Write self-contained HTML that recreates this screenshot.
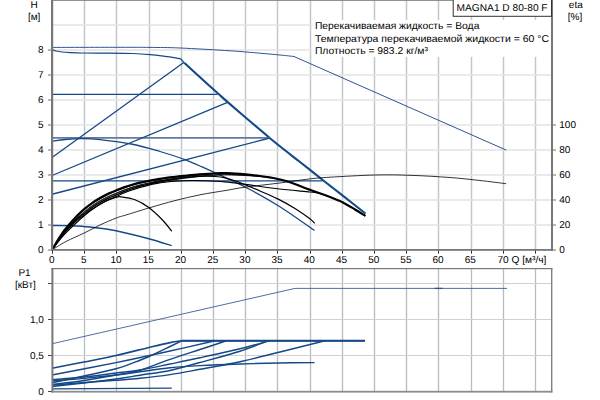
<!DOCTYPE html>
<html><head><meta charset="utf-8"><title>MAGNA1 D 80-80 F</title>
<style>
html,body{margin:0;padding:0;background:#fff;}
body{width:600px;height:400px;overflow:hidden;}
svg{display:block;}
svg text{font-family:"Liberation Sans",Arial,sans-serif;fill:#000;text-rendering:geometricPrecision;}
</style></head><body>
<svg width="600" height="400" viewBox="0 0 600 400">
<rect x="0" y="0" width="600" height="400" fill="#fff"/>
<line x1="84.50" y1="0" x2="84.50" y2="249" stroke="#e9ebed" stroke-width="2.4"/>
<line x1="84.50" y1="0" x2="84.50" y2="249" stroke="#c3c7cb" stroke-width="1"/>
<line x1="84.50" y1="269" x2="84.50" y2="391" stroke="#eceeef" stroke-width="2.2"/>
<line x1="84.50" y1="269" x2="84.50" y2="391" stroke="#b9bcc0" stroke-width="1"/>
<line x1="116.50" y1="0" x2="116.50" y2="249" stroke="#e9ebed" stroke-width="2.4"/>
<line x1="116.50" y1="0" x2="116.50" y2="249" stroke="#c3c7cb" stroke-width="1"/>
<line x1="116.50" y1="269" x2="116.50" y2="391" stroke="#eceeef" stroke-width="2.2"/>
<line x1="116.50" y1="269" x2="116.50" y2="391" stroke="#b9bcc0" stroke-width="1"/>
<line x1="149.50" y1="0" x2="149.50" y2="249" stroke="#e9ebed" stroke-width="2.4"/>
<line x1="149.50" y1="0" x2="149.50" y2="249" stroke="#c3c7cb" stroke-width="1"/>
<line x1="149.50" y1="269" x2="149.50" y2="391" stroke="#eceeef" stroke-width="2.2"/>
<line x1="149.50" y1="269" x2="149.50" y2="391" stroke="#b9bcc0" stroke-width="1"/>
<line x1="181.50" y1="0" x2="181.50" y2="249" stroke="#e9ebed" stroke-width="2.4"/>
<line x1="181.50" y1="0" x2="181.50" y2="249" stroke="#c3c7cb" stroke-width="1"/>
<line x1="181.50" y1="269" x2="181.50" y2="391" stroke="#eceeef" stroke-width="2.2"/>
<line x1="181.50" y1="269" x2="181.50" y2="391" stroke="#b9bcc0" stroke-width="1"/>
<line x1="213.50" y1="0" x2="213.50" y2="249" stroke="#e9ebed" stroke-width="2.4"/>
<line x1="213.50" y1="0" x2="213.50" y2="249" stroke="#c3c7cb" stroke-width="1"/>
<line x1="213.50" y1="269" x2="213.50" y2="391" stroke="#eceeef" stroke-width="2.2"/>
<line x1="213.50" y1="269" x2="213.50" y2="391" stroke="#b9bcc0" stroke-width="1"/>
<line x1="245.50" y1="0" x2="245.50" y2="249" stroke="#e9ebed" stroke-width="2.4"/>
<line x1="245.50" y1="0" x2="245.50" y2="249" stroke="#c3c7cb" stroke-width="1"/>
<line x1="245.50" y1="269" x2="245.50" y2="391" stroke="#eceeef" stroke-width="2.2"/>
<line x1="245.50" y1="269" x2="245.50" y2="391" stroke="#b9bcc0" stroke-width="1"/>
<line x1="277.50" y1="0" x2="277.50" y2="249" stroke="#e9ebed" stroke-width="2.4"/>
<line x1="277.50" y1="0" x2="277.50" y2="249" stroke="#c3c7cb" stroke-width="1"/>
<line x1="277.50" y1="269" x2="277.50" y2="391" stroke="#eceeef" stroke-width="2.2"/>
<line x1="277.50" y1="269" x2="277.50" y2="391" stroke="#b9bcc0" stroke-width="1"/>
<line x1="310.50" y1="0" x2="310.50" y2="249" stroke="#e9ebed" stroke-width="2.4"/>
<line x1="310.50" y1="0" x2="310.50" y2="249" stroke="#c3c7cb" stroke-width="1"/>
<line x1="310.50" y1="269" x2="310.50" y2="391" stroke="#eceeef" stroke-width="2.2"/>
<line x1="310.50" y1="269" x2="310.50" y2="391" stroke="#b9bcc0" stroke-width="1"/>
<line x1="342.50" y1="0" x2="342.50" y2="249" stroke="#e9ebed" stroke-width="2.4"/>
<line x1="342.50" y1="0" x2="342.50" y2="249" stroke="#c3c7cb" stroke-width="1"/>
<line x1="342.50" y1="269" x2="342.50" y2="391" stroke="#eceeef" stroke-width="2.2"/>
<line x1="342.50" y1="269" x2="342.50" y2="391" stroke="#b9bcc0" stroke-width="1"/>
<line x1="374.50" y1="0" x2="374.50" y2="249" stroke="#e9ebed" stroke-width="2.4"/>
<line x1="374.50" y1="0" x2="374.50" y2="249" stroke="#c3c7cb" stroke-width="1"/>
<line x1="374.50" y1="269" x2="374.50" y2="391" stroke="#eceeef" stroke-width="2.2"/>
<line x1="374.50" y1="269" x2="374.50" y2="391" stroke="#b9bcc0" stroke-width="1"/>
<line x1="406.50" y1="0" x2="406.50" y2="249" stroke="#e9ebed" stroke-width="2.4"/>
<line x1="406.50" y1="0" x2="406.50" y2="249" stroke="#c3c7cb" stroke-width="1"/>
<line x1="406.50" y1="269" x2="406.50" y2="391" stroke="#eceeef" stroke-width="2.2"/>
<line x1="406.50" y1="269" x2="406.50" y2="391" stroke="#b9bcc0" stroke-width="1"/>
<line x1="438.50" y1="0" x2="438.50" y2="249" stroke="#e9ebed" stroke-width="2.4"/>
<line x1="438.50" y1="0" x2="438.50" y2="249" stroke="#c3c7cb" stroke-width="1"/>
<line x1="438.50" y1="269" x2="438.50" y2="391" stroke="#eceeef" stroke-width="2.2"/>
<line x1="438.50" y1="269" x2="438.50" y2="391" stroke="#b9bcc0" stroke-width="1"/>
<line x1="471.50" y1="0" x2="471.50" y2="249" stroke="#e9ebed" stroke-width="2.4"/>
<line x1="471.50" y1="0" x2="471.50" y2="249" stroke="#c3c7cb" stroke-width="1"/>
<line x1="471.50" y1="269" x2="471.50" y2="391" stroke="#eceeef" stroke-width="2.2"/>
<line x1="471.50" y1="269" x2="471.50" y2="391" stroke="#b9bcc0" stroke-width="1"/>
<line x1="503.50" y1="0" x2="503.50" y2="249" stroke="#e9ebed" stroke-width="2.4"/>
<line x1="503.50" y1="0" x2="503.50" y2="249" stroke="#c3c7cb" stroke-width="1"/>
<line x1="503.50" y1="269" x2="503.50" y2="391" stroke="#eceeef" stroke-width="2.2"/>
<line x1="503.50" y1="269" x2="503.50" y2="391" stroke="#b9bcc0" stroke-width="1"/>
<line x1="535.50" y1="0" x2="535.50" y2="249" stroke="#e9ebed" stroke-width="2.4"/>
<line x1="535.50" y1="0" x2="535.50" y2="249" stroke="#c3c7cb" stroke-width="1"/>
<line x1="535.50" y1="269" x2="535.50" y2="391" stroke="#eceeef" stroke-width="2.2"/>
<line x1="535.50" y1="269" x2="535.50" y2="391" stroke="#b9bcc0" stroke-width="1"/>
<line x1="53" y1="225.00" x2="551" y2="225.00" stroke="#e2e3e5" stroke-width="1.5"/>
<line x1="53" y1="200.00" x2="551" y2="200.00" stroke="#e2e3e5" stroke-width="1.5"/>
<line x1="53" y1="175.00" x2="551" y2="175.00" stroke="#e2e3e5" stroke-width="1.5"/>
<line x1="53" y1="150.00" x2="551" y2="150.00" stroke="#e2e3e5" stroke-width="1.5"/>
<line x1="53" y1="125.00" x2="551" y2="125.00" stroke="#e2e3e5" stroke-width="1.5"/>
<line x1="53" y1="100.00" x2="551" y2="100.00" stroke="#e2e3e5" stroke-width="1.5"/>
<line x1="53" y1="75.00" x2="551" y2="75.00" stroke="#e2e3e5" stroke-width="1.5"/>
<line x1="53" y1="50.00" x2="551" y2="50.00" stroke="#e2e3e5" stroke-width="1.5"/>
<line x1="53" y1="25.00" x2="551" y2="25.00" stroke="#e2e3e5" stroke-width="1.5"/>
<line x1="53" y1="355.50" x2="551" y2="355.50" stroke="#cfd0d1" stroke-width="1"/>
<line x1="53" y1="319.50" x2="551" y2="319.50" stroke="#cfd0d1" stroke-width="1"/>
<line x1="53" y1="283.50" x2="551" y2="283.50" stroke="#cfd0d1" stroke-width="1"/>
<path d="M52.50,47.40 C63.75,47.38 103.75,47.30 120.00,47.30 C136.25,47.30 140.00,47.28 150.00,47.40 C160.00,47.52 166.67,47.43 180.00,48.00 C193.33,48.57 216.67,49.93 230.00,50.80 C243.33,51.67 251.67,52.50 260.00,53.20 C268.33,53.90 274.33,54.45 280.00,55.00 C285.67,55.55 291.67,56.25 294.00,56.50 L506.2,150.1" fill="none" stroke="#2d5590" stroke-width="1.0" />
<path d="M52.50,50.00 C53.08,50.17 54.42,50.67 56.00,51.00 C57.58,51.33 59.67,51.73 62.00,52.00 C64.33,52.27 66.58,52.43 70.00,52.60 C73.42,52.77 75.83,52.92 82.50,53.00 C89.17,53.08 101.67,53.02 110.00,53.10 C118.33,53.18 125.83,53.25 132.50,53.50 C139.17,53.75 144.58,54.13 150.00,54.60 C155.42,55.07 161.00,55.80 165.00,56.30 C169.00,56.80 171.37,57.17 174.00,57.60 C176.63,58.03 179.67,58.68 180.80,58.90 L184.2,62.8" fill="none" stroke="#154886" stroke-width="1.2" />
<path d="M184.20,62.80 C186.83,65.20 194.32,72.04 200.00,77.20 C205.68,82.36 213.63,89.55 218.30,93.75 C222.97,97.95 222.72,97.81 228.00,102.40 C233.28,106.99 243.00,115.33 250.00,121.30 C257.00,127.27 264.17,133.37 270.00,138.20 C275.83,143.03 280.00,146.33 285.00,150.30 C290.00,154.27 293.67,157.02 300.00,162.00 C306.33,166.98 315.50,174.30 323.00,180.20 C330.50,186.10 337.92,191.85 345.00,197.40 C352.08,202.95 362.08,210.82 365.50,213.50" fill="none" stroke="#154886" stroke-width="2.1" />
<path d="M52.00,94.40 L217.50,94.40" fill="none" stroke="#154886" stroke-width="1.3" />
<path d="M52.00,137.90 L269.60,137.90" fill="none" stroke="#6578a2" stroke-width="1.7" />
<path d="M52.00,180.90 L322.50,180.90" fill="none" stroke="#154886" stroke-width="1.3" />
<path d="M52.00,157.50 L183.75,62.50" fill="none" stroke="#154886" stroke-width="1.3" />
<path d="M52.00,175.50 L227.50,102.30" fill="none" stroke="#154886" stroke-width="1.3" />
<path d="M52.00,194.25 L269.80,138.00" fill="none" stroke="#154886" stroke-width="1.3" />
<path d="M52.00,141.25 C54.17,140.96 60.00,139.93 65.00,139.50 C70.00,139.07 76.17,138.68 82.00,138.70 C87.83,138.72 91.58,138.67 100.00,139.60 C108.42,140.53 122.50,142.27 132.50,144.25 C142.50,146.23 151.67,149.08 160.00,151.50 C168.33,153.92 175.83,156.33 182.50,158.75 C189.17,161.17 189.42,161.21 200.00,166.00 C210.58,170.79 232.88,180.83 246.00,187.50 C259.12,194.17 267.33,198.83 278.75,206.00 C290.17,213.17 308.54,226.42 314.50,230.50" fill="none" stroke="#154886" stroke-width="1.3" />
<path d="M52.00,225.50 C55.00,225.53 63.67,225.45 70.00,225.70 C76.33,225.95 82.33,226.16 90.00,227.00 C97.67,227.84 106.21,228.79 116.00,230.75 C125.79,232.71 139.46,236.25 148.75,238.75 C158.04,241.25 167.92,244.58 171.75,245.75" fill="none" stroke="#154886" stroke-width="1.3" />
<path d="M52.00,250.00 C54.33,248.58 60.63,244.33 66.00,241.50 C71.37,238.67 78.53,235.75 84.20,233.00 C89.87,230.25 94.66,227.50 100.00,225.00 C105.34,222.50 111.92,219.67 116.25,218.00 C120.58,216.33 120.58,216.67 126.00,215.00 C131.42,213.33 140.58,210.40 148.75,208.00 C156.92,205.60 166.46,202.80 175.00,200.60 C183.54,198.40 191.67,196.47 200.00,194.80 C208.33,193.13 217.40,191.88 225.00,190.60 C232.60,189.32 236.85,188.32 245.60,187.10 C254.35,185.88 266.78,184.67 277.50,183.30 C288.22,181.93 301.15,179.92 309.90,178.90 C318.65,177.88 319.15,177.85 330.00,177.20 C340.85,176.55 361.67,175.32 375.00,175.00 C388.33,174.68 397.50,174.88 410.00,175.30 C422.50,175.72 438.33,176.63 450.00,177.50 C461.67,178.37 470.63,179.47 480.00,180.50 C489.37,181.53 501.83,183.17 506.20,183.70" fill="none" stroke="#000" stroke-width="0.8" />
<path d="M52.00,250.00 C53.67,247.83 58.17,241.33 62.00,237.00 C65.83,232.67 70.33,228.33 75.00,224.00 C79.67,219.67 85.00,214.75 90.00,211.00 C95.00,207.25 100.62,203.78 105.00,201.50 C109.38,199.22 113.58,198.08 116.25,197.30 C118.92,196.52 117.88,196.38 121.00,196.80 C124.12,197.22 130.38,198.02 135.00,199.80 C139.62,201.58 144.17,204.13 148.75,207.50 C153.33,210.87 158.67,216.04 162.50,220.00 C166.33,223.96 170.21,229.38 171.75,231.25" fill="none" stroke="#000" stroke-width="1.2" />
<path d="M52.00,250.00 C52.67,248.83 54.67,245.23 56.00,243.00 C57.33,240.77 58.50,238.85 60.00,236.60 C61.50,234.35 63.33,231.68 65.00,229.50 C66.67,227.32 68.00,225.78 70.00,223.50 C72.00,221.22 74.63,218.22 77.00,215.80 C79.37,213.38 81.70,211.13 84.20,209.00 C86.70,206.87 89.37,204.83 92.00,203.00 C94.63,201.17 97.33,199.53 100.00,198.00 C102.67,196.47 105.29,195.08 108.00,193.80 C110.71,192.52 113.58,191.38 116.25,190.30 C118.92,189.22 121.38,188.23 124.00,187.30 C126.62,186.37 129.33,185.48 132.00,184.70 C134.67,183.92 137.21,183.25 140.00,182.60 C142.79,181.95 145.92,181.35 148.75,180.80 C151.58,180.25 154.29,179.77 157.00,179.30 C159.71,178.83 162.00,178.42 165.00,178.00 C168.00,177.58 171.88,177.17 175.00,176.80 C178.12,176.43 179.58,176.23 183.75,175.80 C187.92,175.37 194.38,174.63 200.00,174.20 C205.62,173.77 212.92,173.38 217.50,173.20 C222.08,173.02 222.82,172.90 227.50,173.10 C232.18,173.30 240.18,173.92 245.60,174.40 C251.02,174.88 255.77,175.47 260.00,176.00 C264.23,176.53 268.08,177.12 271.00,177.60 C273.92,178.08 274.33,178.12 277.50,178.90 C280.67,179.68 284.60,180.49 290.00,182.30 C295.40,184.11 304.48,187.77 309.90,189.75 C315.32,191.73 319.15,192.97 322.50,194.20 C325.85,195.42 326.67,195.77 330.00,197.10 C333.33,198.43 338.33,200.13 342.50,202.20 C346.67,204.27 351.17,207.20 355.00,209.50 C358.83,211.80 363.75,214.92 365.50,216.00" fill="none" stroke="#000" stroke-width="2.1" />
<path d="M52.00,250.00 C52.67,248.86 54.67,245.33 56.00,243.15 C57.33,240.97 58.50,239.11 60.00,236.90 C61.50,234.69 63.33,232.05 65.00,229.90 C66.67,227.75 68.00,226.25 70.00,224.00 C72.00,221.75 74.63,218.78 77.00,216.40 C79.37,214.02 81.70,211.82 84.20,209.70 C86.70,207.58 89.37,205.53 92.00,203.70 C94.63,201.87 97.33,200.23 100.00,198.70 C102.67,197.17 105.29,195.78 108.00,194.50 C110.71,193.22 113.58,192.09 116.25,191.00 C118.92,189.91 121.38,188.90 124.00,187.95 C126.62,187.00 129.33,186.10 132.00,185.30 C134.67,184.50 137.21,183.82 140.00,183.15 C142.79,182.49 145.92,181.86 148.75,181.30 C151.58,180.74 154.29,180.25 157.00,179.77 C159.71,179.30 162.00,178.87 165.00,178.45 C168.00,178.02 171.88,177.60 175.00,177.22 C178.12,176.84 179.58,176.63 183.75,176.16 C187.92,175.69 194.38,174.88 200.00,174.40 C205.62,173.92 214.58,173.45 217.50,173.26" fill="none" stroke="#000" stroke-width="1.1" />
<path d="M52.00,250.00 C52.67,248.92 54.67,245.57 56.00,243.50 C57.33,241.43 58.50,239.69 60.00,237.60 C61.50,235.51 63.33,232.98 65.00,230.95 C66.67,228.92 68.00,227.54 70.00,225.40 C72.00,223.26 74.63,220.38 77.00,218.09 C79.37,215.81 81.70,213.77 84.20,211.70 C86.70,209.63 89.37,207.53 92.00,205.70 C94.63,203.87 97.33,202.23 100.00,200.70 C102.67,199.17 105.29,197.78 108.00,196.50 C110.71,195.22 113.58,194.11 116.25,193.00 C118.92,191.89 121.38,190.84 124.00,189.86 C126.62,188.88 129.33,187.94 132.00,187.11 C134.67,186.28 137.21,185.56 140.00,184.86 C142.79,184.16 145.92,183.51 148.75,182.90 C151.58,182.29 154.29,181.74 157.00,181.22 C159.71,180.69 162.00,180.22 165.00,179.74 C168.00,179.25 171.88,178.75 175.00,178.31 C178.12,177.87 179.58,177.64 183.75,177.09 C187.92,176.54 194.38,175.60 200.00,175.00 C205.62,174.40 212.92,173.81 217.50,173.51 C222.08,173.21 225.83,173.24 227.50,173.19" fill="none" stroke="#000" stroke-width="0.85" />
<path d="M52.00,250.00 C52.67,248.93 54.67,245.63 56.00,243.60 C57.33,241.57 58.50,239.86 60.00,237.80 C61.50,235.74 63.33,233.25 65.00,231.25 C66.67,229.25 68.00,227.91 70.00,225.80 C72.00,223.69 74.63,220.84 77.00,218.59 C79.37,216.34 81.70,214.35 84.20,212.30 C86.70,210.25 89.37,208.13 92.00,206.30 C94.63,204.47 97.33,202.83 100.00,201.30 C102.67,199.77 105.29,198.38 108.00,197.10 C110.71,195.82 113.58,194.72 116.25,193.60 C118.92,192.48 121.38,191.41 124.00,190.41 C126.62,189.41 129.33,188.46 132.00,187.61 C134.67,186.76 137.21,186.03 140.00,185.32 C142.79,184.60 145.92,183.91 148.75,183.30 C151.58,182.69 154.29,182.18 157.00,181.67 C159.71,181.16 162.00,180.70 165.00,180.24 C168.00,179.78 171.88,179.30 175.00,178.88 C178.12,178.46 179.58,178.24 183.75,177.74 C187.92,177.25 194.38,176.41 200.00,175.90 C205.62,175.39 212.92,174.94 217.50,174.69 C222.08,174.44 222.82,174.34 227.50,174.43 C232.18,174.52 240.18,174.90 245.60,175.22 C251.02,175.55 255.77,175.97 260.00,176.37 C264.23,176.76 269.17,177.39 271.00,177.60" fill="none" stroke="#000" stroke-width="0.85" />
<path d="M52.00,250.00 C52.67,248.97 54.67,245.80 56.00,243.85 C57.33,241.90 58.50,240.27 60.00,238.30 C61.50,236.32 63.33,233.92 65.00,232.00 C66.67,230.08 68.00,228.83 70.00,226.80 C72.00,224.77 74.63,221.97 77.00,219.79 C79.37,217.61 81.70,215.72 84.20,213.70 C86.70,211.68 89.37,209.53 92.00,207.70 C94.63,205.87 97.33,204.23 100.00,202.70 C102.67,201.17 105.29,199.78 108.00,198.50 C110.71,197.22 113.58,196.14 116.25,195.00 C118.92,193.86 121.38,192.71 124.00,191.67 C126.62,190.62 129.33,189.62 132.00,188.72 C134.67,187.82 137.21,187.05 140.00,186.28 C142.79,185.51 145.92,184.74 148.75,184.10 C151.58,183.46 154.29,182.94 157.00,182.42 C159.71,181.89 162.00,181.42 165.00,180.94 C168.00,180.45 171.88,179.94 175.00,179.51 C178.12,179.08 179.58,178.85 183.75,178.34 C187.92,177.84 194.38,177.02 200.00,176.50 C205.62,175.98 212.92,175.49 217.50,175.22 C222.08,174.95 222.82,174.85 227.50,174.91 C232.18,174.97 240.18,175.29 245.60,175.56 C251.02,175.83 255.77,176.18 260.00,176.52 C264.23,176.86 269.17,177.42 271.00,177.60" fill="none" stroke="#000" stroke-width="0.85" />
<path d="M52.00,250.00 C52.67,249.05 54.67,246.15 56.00,244.30 C57.33,242.45 58.50,240.92 60.00,238.90 C61.50,236.88 63.33,234.22 65.00,232.20 C66.67,230.18 68.00,228.80 70.00,226.80 C72.00,224.80 74.63,222.13 77.00,220.20 C79.37,218.27 81.70,217.03 84.20,215.20 C86.70,213.37 89.37,211.03 92.00,209.20 C94.63,207.37 97.33,205.73 100.00,204.20 C102.67,202.67 105.29,201.28 108.00,200.00 C110.71,198.72 113.58,197.67 116.25,196.50 C118.92,195.33 121.38,194.08 124.00,193.00 C126.62,191.92 129.33,190.93 132.00,190.00 C134.67,189.07 137.21,188.22 140.00,187.40 C142.79,186.58 145.92,185.77 148.75,185.10 C151.58,184.43 154.29,183.88 157.00,183.40 C159.71,182.92 162.00,182.58 165.00,182.20 C168.00,181.82 170.83,181.38 175.00,181.10 C179.17,180.82 185.00,180.57 190.00,180.50 C195.00,180.43 199.17,180.47 205.00,180.70 C210.83,180.93 218.23,181.28 225.00,181.90 C231.77,182.52 236.85,183.25 245.60,184.40 C254.35,185.55 266.78,187.53 277.50,188.80 C288.22,190.07 303.15,191.30 309.90,192.00 C316.65,192.70 315.90,192.63 318.00,193.00 C320.10,193.37 321.75,194.00 322.50,194.20" fill="none" stroke="#000" stroke-width="1.15" />
<path d="M52.00,250.00 C52.67,248.98 54.67,245.87 56.00,243.90 C57.33,241.93 58.50,240.28 60.00,238.20 C61.50,236.12 63.33,233.47 65.00,231.40 C66.67,229.33 68.00,227.90 70.00,225.80 C72.00,223.70 74.63,220.83 77.00,218.80 C79.37,216.77 81.70,215.47 84.20,213.60 C86.70,211.73 89.37,209.43 92.00,207.60 C94.63,205.77 97.33,204.13 100.00,202.60 C102.67,201.07 105.29,199.68 108.00,198.40 C110.71,197.12 113.58,196.03 116.25,194.90 C118.92,193.77 121.38,192.63 124.00,191.60 C126.62,190.57 129.33,189.60 132.00,188.70 C134.67,187.80 137.21,186.97 140.00,186.20 C142.79,185.43 145.92,184.75 148.75,184.10 C151.58,183.45 154.29,182.85 157.00,182.30 C159.71,181.75 162.00,181.32 165.00,180.80 C168.00,180.28 170.83,179.80 175.00,179.20 C179.17,178.60 185.00,177.70 190.00,177.20 C195.00,176.70 200.83,176.32 205.00,176.20 C209.17,176.08 211.67,176.23 215.00,176.50 C218.33,176.77 221.67,177.08 225.00,177.80 C228.33,178.52 231.55,179.60 235.00,180.80 C238.45,182.00 241.53,183.30 245.70,185.00 C249.87,186.70 254.67,188.68 260.00,191.00 C265.33,193.32 271.87,195.98 277.70,198.90 C283.53,201.82 289.63,205.18 295.00,208.50 C300.37,211.82 306.60,216.33 309.90,218.80 C313.20,221.27 313.98,222.55 314.80,223.30" fill="none" stroke="#000" stroke-width="1.2" />
<path d="M52.00,343.75 L200.00,310.00 L295.00,288.40 L507.00,288.40" fill="none" stroke="#3a5d97" stroke-width="0.9" />
<path d="M434.50,288.40 L442.50,288.40" fill="none" stroke="#2d5590" stroke-width="1.3" />
<path d="M52.00,368.20 C57.33,367.17 73.33,364.12 84.00,362.00 C94.67,359.88 105.00,357.97 116.00,355.50 C127.00,353.03 141.00,349.35 150.00,347.20 C159.00,345.05 164.71,343.67 170.00,342.60 C175.29,341.53 179.79,341.10 181.75,340.80 L365,340.80" fill="none" stroke="#154886" stroke-width="1.6" />
<path d="M181.75,340.80 L365.00,340.80" fill="none" stroke="#154886" stroke-width="2.0" />
<path d="M52.00,375.00 C62.67,372.93 96.33,366.60 116.00,362.60 C135.67,358.60 153.50,354.63 170.00,351.00 C186.50,347.37 207.50,342.50 215.00,340.80" fill="none" stroke="#154886" stroke-width="1.45" />
<path d="M52.00,382.70 C57.33,381.58 73.33,378.32 84.00,376.00 C94.67,373.68 106.67,371.38 116.00,368.75 C125.33,366.12 134.33,362.32 140.00,360.20 C145.67,358.07 145.00,358.28 150.00,356.00 C155.00,353.72 164.71,349.03 170.00,346.50 C175.29,343.97 179.79,341.75 181.75,340.80" fill="none" stroke="#154886" stroke-width="1.45" />
<path d="M52.00,384.50 C57.33,383.83 73.33,382.08 84.00,380.50 C94.67,378.92 106.67,376.72 116.00,375.00 C125.33,373.28 131.00,372.80 140.00,370.20 C149.00,367.60 160.00,362.85 170.00,359.40 C180.00,355.95 190.58,352.60 200.00,349.50 C209.42,346.40 222.08,342.25 226.50,340.80" fill="none" stroke="#154886" stroke-width="1.45" />
<path d="M52.00,379.70 C57.33,379.25 73.33,378.12 84.00,377.00 C94.67,375.88 106.67,374.17 116.00,373.00 C125.33,371.83 131.00,371.50 140.00,370.00 C149.00,368.50 160.00,366.03 170.00,364.00 C180.00,361.97 188.33,360.33 200.00,357.80 C211.67,355.27 228.50,351.63 240.00,348.80 C251.50,345.97 264.17,342.13 269.00,340.80" fill="none" stroke="#154886" stroke-width="1.45" />
<path d="M52.00,386.50 C57.33,385.92 73.33,384.25 84.00,383.00 C94.67,381.75 106.67,380.30 116.00,379.00 C125.33,377.70 131.00,376.62 140.00,375.20 C149.00,373.78 160.00,372.62 170.00,370.50 C180.00,368.38 188.33,365.72 200.00,362.50 C211.67,359.28 228.67,354.82 240.00,351.20 C251.33,347.58 263.33,342.53 268.00,340.80" fill="none" stroke="#154886" stroke-width="1.45" />
<path d="M52.00,385.20 C57.33,384.75 73.33,383.32 84.00,382.50 C94.67,381.68 106.67,381.00 116.00,380.30 C125.33,379.60 131.00,379.25 140.00,378.30 C149.00,377.35 160.00,376.10 170.00,374.60 C180.00,373.10 188.33,371.45 200.00,369.30 C211.67,367.15 226.67,364.58 240.00,361.70 C253.33,358.82 265.83,355.48 280.00,352.00 C294.17,348.52 317.50,342.67 325.00,340.80" fill="none" stroke="#154886" stroke-width="1.45" />
<path d="M52.00,381.00 C57.33,380.57 73.33,379.40 84.00,378.40 C94.67,377.40 106.67,376.10 116.00,375.00 C125.33,373.90 131.00,373.00 140.00,371.80 C149.00,370.60 160.00,368.83 170.00,367.80 C180.00,366.77 188.33,366.23 200.00,365.60 C211.67,364.97 226.67,364.43 240.00,364.00 C253.33,363.57 267.58,363.23 280.00,363.00 C292.42,362.77 308.75,362.67 314.50,362.60" fill="none" stroke="#154886" stroke-width="1.45" />
<path d="M52.00,388.90 L171.75,388.10" fill="none" stroke="#154886" stroke-width="1.45" />
<rect x="312.5" y="20" width="238" height="36.8" fill="#fff"/>
<rect x="51" y="0" width="2.2" height="251" fill="#777777"/>
<rect x="51" y="249" width="502" height="1.8" fill="#777777"/>
<rect x="551" y="0" width="2" height="251" fill="#777777"/>
<rect x="51" y="0" width="502" height="0.8" fill="#777777"/>
<rect x="51.4" y="268" width="2" height="124.5" fill="#777777"/>
<rect x="51.4" y="390.8" width="501" height="1.8" fill="#8c8c8c"/>
<rect x="51.4" y="268" width="501" height="1.2" fill="#777777"/>
<rect x="551" y="268" width="1.4" height="124.4" fill="#808080"/>
<rect x="52" y="250.5" width="1" height="3.2" fill="#333"/>
<rect x="84" y="250.5" width="1" height="3.2" fill="#333"/>
<rect x="116" y="250.5" width="1" height="3.2" fill="#333"/>
<rect x="149" y="250.5" width="1" height="3.2" fill="#333"/>
<rect x="181" y="250.5" width="1" height="3.2" fill="#333"/>
<rect x="213" y="250.5" width="1" height="3.2" fill="#333"/>
<rect x="245" y="250.5" width="1" height="3.2" fill="#333"/>
<rect x="277" y="250.5" width="1" height="3.2" fill="#333"/>
<rect x="310" y="250.5" width="1" height="3.2" fill="#333"/>
<rect x="342" y="250.5" width="1" height="3.2" fill="#333"/>
<rect x="374" y="250.5" width="1" height="3.2" fill="#333"/>
<rect x="406" y="250.5" width="1" height="3.2" fill="#333"/>
<rect x="438" y="250.5" width="1" height="3.2" fill="#333"/>
<rect x="471" y="250.5" width="1" height="3.2" fill="#333"/>
<rect x="503" y="250.5" width="1" height="3.2" fill="#333"/>
<rect x="535" y="250.5" width="1" height="3.2" fill="#333"/>
<rect x="48" y="249.30" width="3.2" height="1.4" fill="#9a9a9a"/>
<rect x="48" y="224.30" width="3.2" height="1.4" fill="#9a9a9a"/>
<rect x="48" y="199.30" width="3.2" height="1.4" fill="#9a9a9a"/>
<rect x="48" y="174.30" width="3.2" height="1.4" fill="#9a9a9a"/>
<rect x="48" y="149.30" width="3.2" height="1.4" fill="#9a9a9a"/>
<rect x="48" y="124.30" width="3.2" height="1.4" fill="#9a9a9a"/>
<rect x="48" y="99.30" width="3.2" height="1.4" fill="#9a9a9a"/>
<rect x="48" y="74.30" width="3.2" height="1.4" fill="#9a9a9a"/>
<rect x="48" y="49.30" width="3.2" height="1.4" fill="#9a9a9a"/>
<rect x="553" y="249.30" width="3" height="1.4" fill="#9a9a9a"/>
<rect x="553" y="224.30" width="3" height="1.4" fill="#9a9a9a"/>
<rect x="553" y="199.30" width="3" height="1.4" fill="#9a9a9a"/>
<rect x="553" y="174.30" width="3" height="1.4" fill="#9a9a9a"/>
<rect x="553" y="149.30" width="3" height="1.4" fill="#9a9a9a"/>
<rect x="553" y="124.30" width="3" height="1.4" fill="#9a9a9a"/>
<rect x="48" y="391.00" width="3.6" height="1" fill="#444"/>
<rect x="48" y="355.00" width="3.6" height="1" fill="#444"/>
<rect x="48" y="319.00" width="3.6" height="1" fill="#444"/>
<rect x="48" y="283.00" width="3.6" height="1" fill="#444"/>
<rect x="453.2" y="-2" width="98.3" height="18.3" fill="#fff" stroke="#333" stroke-width="1"/>
<text x="43.60" y="253.00" text-anchor="end" font-size="10">0</text>
<text x="43.60" y="228.00" text-anchor="end" font-size="10">1</text>
<text x="43.60" y="203.00" text-anchor="end" font-size="10">2</text>
<text x="43.60" y="178.00" text-anchor="end" font-size="10">3</text>
<text x="43.60" y="153.00" text-anchor="end" font-size="10">4</text>
<text x="43.60" y="128.00" text-anchor="end" font-size="10">5</text>
<text x="43.60" y="103.00" text-anchor="end" font-size="10">6</text>
<text x="43.60" y="78.00" text-anchor="end" font-size="10">7</text>
<text x="43.60" y="53.00" text-anchor="end" font-size="10">8</text>
<text x="34.20" y="8.00" text-anchor="middle" font-size="10">H</text>
<text x="34.10" y="20.00" text-anchor="middle" font-size="10">[м]</text>
<text x="51.70" y="263.00" text-anchor="middle" font-size="10">0</text>
<text x="83.90" y="263.00" text-anchor="middle" font-size="10">5</text>
<text x="116.10" y="263.00" text-anchor="middle" font-size="10">10</text>
<text x="148.30" y="263.00" text-anchor="middle" font-size="10">15</text>
<text x="180.50" y="263.00" text-anchor="middle" font-size="10">20</text>
<text x="212.70" y="263.00" text-anchor="middle" font-size="10">25</text>
<text x="244.90" y="263.00" text-anchor="middle" font-size="10">30</text>
<text x="277.10" y="263.00" text-anchor="middle" font-size="10">35</text>
<text x="309.30" y="263.00" text-anchor="middle" font-size="10">40</text>
<text x="341.50" y="263.00" text-anchor="middle" font-size="10">45</text>
<text x="373.70" y="263.00" text-anchor="middle" font-size="10">50</text>
<text x="405.90" y="263.00" text-anchor="middle" font-size="10">55</text>
<text x="438.10" y="263.00" text-anchor="middle" font-size="10">60</text>
<text x="470.30" y="263.00" text-anchor="middle" font-size="10">65</text>
<text x="497.40" y="263.00" text-anchor="start" font-size="10" textLength="49.0" lengthAdjust="spacingAndGlyphs">70 Q [м³/ч]</text>
<text x="559.30" y="253.00" text-anchor="start" font-size="10">0</text>
<text x="559.30" y="228.00" text-anchor="start" font-size="10">20</text>
<text x="559.30" y="203.00" text-anchor="start" font-size="10">40</text>
<text x="559.30" y="178.00" text-anchor="start" font-size="10">60</text>
<text x="559.30" y="153.00" text-anchor="start" font-size="10">80</text>
<text x="559.30" y="128.00" text-anchor="start" font-size="10">100</text>
<text x="575.80" y="8.00" text-anchor="middle" font-size="10">eta</text>
<text x="575.00" y="20.00" text-anchor="middle" font-size="10">[%]</text>
<text x="43.90" y="395.00" text-anchor="end" font-size="10">0</text>
<text x="43.90" y="359.00" text-anchor="end" font-size="10">0,5</text>
<text x="43.90" y="323.00" text-anchor="end" font-size="10">1,0</text>
<text x="24.50" y="276.00" text-anchor="middle" font-size="10">P1</text>
<text x="25.40" y="288.00" text-anchor="middle" font-size="10">[кВт]</text>
<text x="314.90" y="29.00" text-anchor="start" font-size="10" textLength="164.5" lengthAdjust="spacingAndGlyphs">Перекачиваемая жидкость = Вода</text>
<text x="314.90" y="42.00" text-anchor="start" font-size="10" textLength="234.2" lengthAdjust="spacingAndGlyphs">Температура перекачиваемой жидкости = 60 °C</text>
<text x="314.90" y="54.00" text-anchor="start" font-size="10" textLength="113.0" lengthAdjust="spacingAndGlyphs">Плотность = 983.2 кг/м³</text>
<text x="456.60" y="11.00" text-anchor="start" font-size="10" textLength="91.0" lengthAdjust="spacingAndGlyphs">MAGNA1 D 80-80 F</text>
</svg>
</body></html>
